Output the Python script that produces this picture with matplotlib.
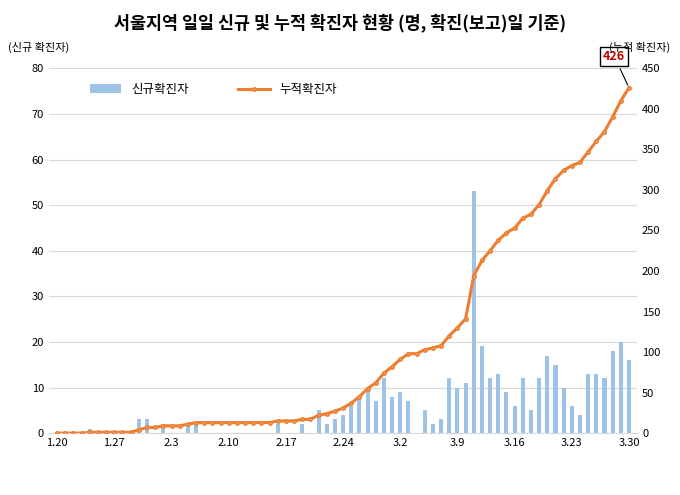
import matplotlib
matplotlib.use("Agg")
import matplotlib.pyplot as plt
from matplotlib import font_manager
import numpy as np

names = {f.name for f in font_manager.fontManager.ttflist}
fams = [n for n in ["Noto Sans CJK KR", "Noto Sans CJK JP", "Noto Sans CJK SC", "Noto Sans CJK TC"] if n in names]
plt.rcParams["font.family"] = fams + ["DejaVu Sans"] if fams else ["sans-serif"]
if not fams:
    cjk = [f.fname for f in font_manager.fontManager.ttflist if "CJK" in f.fname]
    if cjk:
        font_manager.fontManager.addfont(cjk[0])
        plt.rcParams["font.family"] = font_manager.FontProperties(fname=cjk[0]).get_name()

tick_labels = ["1.20", "1.27", "2.3", "2.10", "2.17", "2.24", "3.2", "3.9", "3.16", "3.23", "3.30"]
new_cases = [0, 0, 0, 0, 1, 0, 0, 0, 0, 0, 3, 3, 0, 2, 0, 0, 2, 2, 0, 0,
             0, 0, 0, 0, 0, 0, 0, 2, 0, 0, 2, 0, 5, 2, 3,
             4, 6, 8, 10, 7, 12, 8, 9, 7, 0, 5, 2, 3, 12, 10, 11, 53, 19, 12, 13,
             9, 6, 12, 5, 12, 17, 15, 10, 6, 4, 13, 13, 12, 18, 20, 16]
cumulative = [0, 0, 0, 0, 1, 1, 1, 1, 1, 1, 4, 7, 7, 9, 9, 9, 11, 13, 13, 13,
              13, 13, 13, 13, 13, 13, 13, 15, 15, 15, 17, 17, 22, 24, 27,
              31, 37, 45, 55, 62, 74, 82, 91, 98, 98, 103, 105, 108, 120, 130, 141, 194, 213, 225, 238,
              247, 253, 265, 270, 282, 299, 314, 324, 330, 334, 347, 360, 372, 390, 410, 426]

x = np.arange(len(new_cases))
fig = plt.figure(figsize=(6.8, 4.95), dpi=100)
ax = fig.add_axes([0.072, 0.125, 0.865, 0.737])
ax2 = ax.twinx()

ax.bar(x, new_cases, width=0.5, color="#9DC3E6", label="신규확진자", zorder=2)
ax2.plot(x, cumulative, color="#ED7D31", lw=2.2, marker="o", ms=2.5,
         mfc="#F4A460", mec="#ED7D31", label="누적확진자", zorder=3)

ax.set_ylim(0, 80)
ax.set_yticks(range(0, 81, 10))
ax2.set_ylim(0, 450)
ax2.set_yticks(range(0, 451, 50))
ax.set_xlim(-1, len(new_cases))
ax.set_xticks(x[::7])
ax.set_xticklabels(tick_labels)
ax.grid(axis="y", color="#D9D9D9", lw=0.8, zorder=0)
for a in (ax, ax2):
    for s in a.spines.values():
        s.set_visible(False)
    a.tick_params(length=0, labelsize=8)
ax.spines["bottom"].set_visible(True)
ax.spines["bottom"].set_color("#D9D9D9")

ax2.annotate(str(cumulative[-1]), xy=(x[-1], cumulative[-1]), xytext=(x[-1] - 1.8, 465),
             ha="center", va="center", color="#C00000", fontsize=9, fontweight="bold",
             bbox=dict(boxstyle="square,pad=0.25", fc="white", ec="black", lw=1),
             arrowprops=dict(arrowstyle="-", color="black", lw=0.8), annotation_clip=False)

h1, l1 = ax.get_legend_handles_labels()
h2, l2 = ax2.get_legend_handles_labels()
ax.legend(h1 + h2, l1 + l2, loc="upper left", bbox_to_anchor=(0.05, 0.99), ncol=2,
          frameon=False, fontsize=9, columnspacing=4, handlelength=2.5)

fig.text(0.5, 0.955, "서울지역 일일 신규 및 누적 확진자 현황 (명, 확진(보고)일 기준)",
         ha="center", va="center", fontsize=12.5, fontweight="bold")
fig.text(0.012, 0.905, "(신규 확진자)", fontsize=8, va="center")
fig.text(0.985, 0.905, "(누적 확진자)", fontsize=8, va="center", ha="right")

fig.savefig("out.png", dpi=100)
